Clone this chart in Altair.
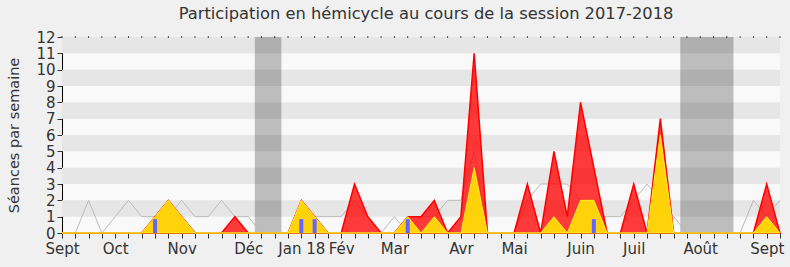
import altair as alt
import pandas as pd

# ---- data ----
weeks = list(range(55))
gray_line = [0, 0, 2, 0, 1, 2, 1, 1, 1, 2,
             1, 1, 2, 1, 1, 0, 0, 0, 1, 1,
             1, 1, 2, 1, 0, 1, 0, 1, 1, 2,
             2, 5, 0, 0, 0, 2, 3, 3, 3, 2,
             1, 1, 1, 2, 3, 2, 1, 0, 0, 0,
             0, 0, 2, 1, 2]
red_area = [0, 0, 0, 0, 0, 0, 0, 1, 2, 1,
            0, 0, 0, 1, 0, 0, 0, 0, 2, 1,
            0, 0, 3, 1, 0, 0, 1, 1, 2, 0,
            1, 11, 0, 0, 0, 3, 0, 5, 1, 8,
            4, 0, 0, 3, 0, 7, 0, 0, 0, 0,
            0, 0, 0, 3, 0]
yellow_area = [0, 0, 0, 0, 0, 0, 0, 1, 2, 1,
               0, 0, 0, 0, 0, 0, 0, 0, 2, 1,
               0, 0, 0, 0, 0, 0, 1, 0, 1, 0,
               0, 4, 0, 0, 0, 0, 0, 1, 0, 2,
               2, 0, 0, 0, 0, 6, 0, 0, 0, 0,
               0, 0, 0, 1, 0]
blue_weeks = [7, 18, 19, 26, 40]
blue_values = [0.85, 0.85, 0.85, 0.85, 0.85]
month_pos = [0, 4, 9, 14, 18, 21, 25, 30, 34, 39, 43, 48, 53]
month_names = ["Sept", "Oct", "Nov", "Déc", "Jan 18", "Fév", "Mar", "Avr",
               "Mai", "Juin", "Juil", "Août", "Sept"]
band_low = [1, 3, 5, 7, 9, 11]
band_high = [2, 4, 6, 8, 10, 12]
vac_start = [14.5, 46.5]
vac_end = [16.5, 50.5]
y_ticks = list(range(13))
y_top = [12] * len(weeks)

FONT = "DejaVu Sans"
TXT = "#333333"

series = pd.DataFrame({"week": weeks, "gray": gray_line, "red": red_area,
                       "yellow": yellow_area, "top": y_top})
bands = pd.DataFrame({"lo": band_low, "hi": band_high})
vac = pd.DataFrame({"s": vac_start, "e": vac_end})
blue = pd.DataFrame({"week": blue_weeks, "v": blue_values})

xs = alt.Scale(domain=[0, 54], nice=False, zero=False, padding=0)
ys = alt.Scale(domain=[0, 12], nice=False, padding=0)

label_expr = ""
for p, n in zip(month_pos, month_names):
    label_expr += f"datum.value == {p} ? '{n}' : "
label_expr += "''"

XA = alt.Axis(values=weeks, labelExpr=label_expr, labelOverlap=False, labelFlush=False,
              title=None, grid=False, tickSize=5, tickColor=TXT, domainColor="#000000",
              labelFontSize=15, labelColor=TXT, labelFont=FONT, labelPadding=3)
YA = alt.Axis(values=y_ticks, title="Séances par semaine", grid=False, tickSize=5,
              tickColor=TXT, domainColor="#000000", labelFontSize=15, labelColor=TXT,
              labelFont=FONT, titleFont=FONT, titleFontSize=14.5, titleFontWeight="normal",
              titleColor=TXT, titlePadding=14, labelPadding=2)

band_layer = alt.Chart(bands).mark_rect(color="#e6e6e6").encode(
    x=alt.datum(0, scale=xs, axis=XA),
    x2=alt.datum(54),
    y=alt.Y("lo:Q", scale=ys, axis=YA),
    y2="hi:Q",
)

vac_layer = alt.Chart(vac).mark_rect(color="#000000", opacity=0.24).encode(
    x=alt.X("s:Q", scale=xs, axis=XA),
    x2="e:Q",
    y=alt.datum(0, scale=ys, axis=YA),
    y2=alt.datum(12),
)

top_ticks = alt.Chart(series).mark_tick(color="#000000", size=2, thickness=1, orient="vertical").encode(
    x=alt.X("week:Q", scale=xs, axis=XA),
    y=alt.Y("top:Q", scale=ys, axis=YA),
)

gray_layer = alt.Chart(series).mark_line(color="#bbbbbb", strokeWidth=1).encode(
    x=alt.X("week:Q", scale=xs, axis=XA),
    y=alt.Y("gray:Q", scale=ys, axis=YA),
)

red_layer = alt.Chart(series).mark_area(
    color="#ff0000", fillOpacity=0.77, stroke="#ff0000", strokeWidth=1.5
).encode(
    x=alt.X("week:Q", scale=xs, axis=XA),
    y=alt.Y("red:Q", scale=ys, axis=YA),
)

yellow_layer = alt.Chart(series).mark_area(
    color="#ffd20a", fillOpacity=1, stroke="#ffee22", strokeWidth=1
).encode(
    x=alt.X("week:Q", scale=xs, axis=XA),
    y=alt.Y("yellow:Q", scale=ys, axis=YA),
)

blue_layer = alt.Chart(blue).mark_bar(color="#6666ff", size=4).encode(
    x=alt.X("week:Q", scale=xs, axis=XA),
    y=alt.Y("v:Q", scale=ys, axis=YA),
)

chart = alt.layer(
    band_layer, vac_layer, top_ticks, gray_layer, red_layer, yellow_layer, blue_layer
).properties(
    width=718,
    height=196,
    autosize=alt.AutoSizeParams(type="none"),
    padding={"left": 62, "top": 37, "right": 10, "bottom": 34},
    background="#f0f0f0",
    title=alt.TitleParams(
        "Participation en hémicycle au cours de la session 2017-2018",
        font=FONT, fontSize=16.3, fontWeight="normal", color=TXT, anchor="middle",
        offset=8, dx=5,
    ),
).configure_view(fill="#f9f9f9", stroke=None)

chart.save("out.html", embed_options={"renderer": "svg", "actions": False})
